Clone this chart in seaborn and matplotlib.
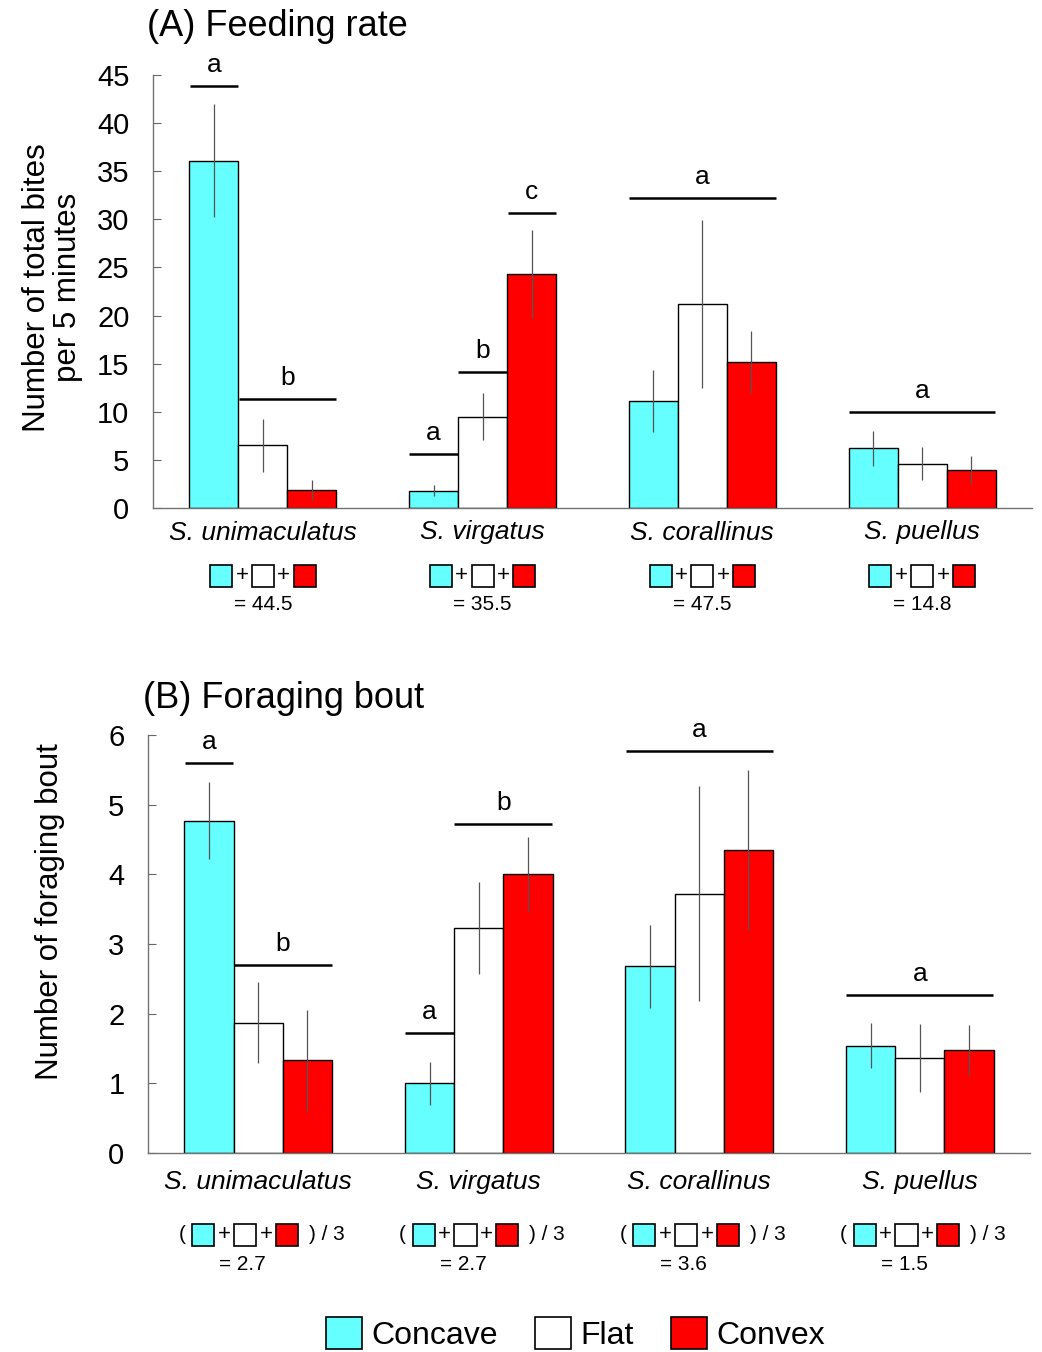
import numpy as np
import pandas as pd
import matplotlib
matplotlib.use("Agg")
import matplotlib.pyplot as plt
import seaborn as sns
from matplotlib.patches import Rectangle, Patch

species = ["S. unimaculatus", "S. virgatus", "S. corallinus", "S. puellus"]
shapes = ["Concave", "Flat", "Convex"]
colors = ["#66FFFF", "#FFFFFF", "#FF0000"]

# (A) number of total bites per 5 minutes: mean and SE per shape
bites_concave = [36.1, 1.8, 11.1, 6.2]
bites_flat = [6.5, 9.5, 21.2, 4.6]
bites_convex = [1.9, 24.3, 15.2, 4.0]
bites_concave_se = [5.85, 0.6, 3.2, 1.85]
bites_flat_se = [2.75, 2.4, 8.7, 1.7]
bites_convex_se = [1.05, 4.55, 3.2, 1.45]
bites_total = [44.5, 35.5, 47.5, 14.8]

# (B) number of foraging bouts: mean and SE per shape
bouts_concave = [4.77, 1.00, 2.68, 1.54]
bouts_flat = [1.87, 3.23, 3.72, 1.36]
bouts_convex = [1.33, 4.00, 4.35, 1.48]
bouts_concave_se = [0.555, 0.305, 0.595, 0.325]
bouts_flat_se = [0.58, 0.655, 1.545, 0.485]
bouts_convex_se = [0.725, 0.535, 1.15, 0.355]
bouts_mean = [2.7, 2.7, 3.6, 1.5]

# significance letters: (letter, species index, first shape, last shape, height)
letters_a = [("a", 0, 0, 0, 43.9), ("b", 0, 1, 2, 11.3),
             ("a", 1, 0, 0, 5.6), ("b", 1, 1, 1, 14.1), ("c", 1, 2, 2, 30.7),
             ("a", 2, 0, 2, 32.2), ("a", 3, 0, 2, 10.0)]
letters_b = [("a", 0, 0, 0, 5.60), ("b", 0, 1, 2, 2.70),
             ("a", 1, 0, 0, 1.72), ("b", 1, 1, 2, 4.72),
             ("a", 2, 0, 2, 5.77), ("a", 3, 0, 2, 2.27)]

W, H = 1042, 1352
BAR_W = 0.67


def long_frame(means, ses):
    rows = []
    for shape, m, s in zip(shapes, means, ses):
        for sp, v, e in zip(species, m, s):
            rows.append({"species": sp, "shape": shape, "value": v, "se": e})
    return pd.DataFrame(rows)


def draw_panel(ax, df, ymax, ystep, letters, ylabel):
    sns.barplot(data=df, x="species", y="value", hue="shape", hue_order=shapes,
                order=species, palette=colors, saturation=1, width=BAR_W,
                edgecolor="black", linewidth=1, errorbar=None, legend=False, ax=ax)
    centers = {}
    for k, cont in enumerate(ax.containers):
        sub = df[df["shape"] == shapes[k]].set_index("species").loc[species]
        for j, bar in enumerate(cont):
            x = bar.get_x() + bar.get_width() / 2
            centers[(j, k)] = x
            m, s = sub["value"].iloc[j], sub["se"].iloc[j]
            ax.vlines(x, m - s, m + s, color="#555555", lw=0.9, zorder=5)
    ext = 0.11
    for let, j, k0, k1, y in letters:
        x0 = centers[(j, k0)] - ext
        x1 = centers[(j, k1)] + ext
        ax.plot([x0, x1], [y, y], color="black", lw=1.8, solid_capstyle="butt")
        ax.annotate(let, ((x0 + x1) / 2, y), xytext=(0, 10), textcoords="offset points",
                    ha="center", va="baseline", fontsize=19)
    ax.set_xlim(-0.5, 3.5)
    ax.set_ylim(0, ymax)
    ax.set_yticks(np.arange(0, ymax + 0.01, ystep))
    ax.set_xlabel("")
    ax.set_ylabel(ylabel, fontsize=22.5, linespacing=1.05)
    ax.tick_params(axis="y", direction="in", length=6, width=0.8, color="0.4",
                   labelcolor="black", labelsize=21, pad=17)
    ax.tick_params(axis="x", length=0, labelsize=19, labelcolor="black")
    for lab in ax.get_xticklabels():
        lab.set_style("italic")
    sns.despine(ax=ax)
    for sp in ["left", "bottom"]:
        ax.spines[sp].set_color("0.45")
        ax.spines[sp].set_linewidth(1)


def square(ax, x, y, w, h, color):
    ax.add_patch(Rectangle((x - w / 2, y - h / 2), w, h, transform=ax.get_xaxis_transform(),
                           facecolor=color, edgecolor="black", lw=1.2, clip_on=False))


sns.set_style("ticks")
plt.rcParams["font.family"] = ["Liberation Sans", "DejaVu Sans"]
plt.rcParams["text.color"] = "black"
plt.rcParams["axes.labelcolor"] = "black"

fig = plt.figure(figsize=(W / 100, H / 100), dpi=100)
ax_a = fig.add_axes([153 / W, 1 - 508 / H, 879 / W, 433 / H])
ax_b = fig.add_axes([148 / W, 1 - 1153 / H, 882 / W, 418 / H])

df_a = long_frame([bites_concave, bites_flat, bites_convex],
                  [bites_concave_se, bites_flat_se, bites_convex_se])
df_b = long_frame([bouts_concave, bouts_flat, bouts_convex],
                  [bouts_concave_se, bouts_flat_se, bouts_convex_se])

draw_panel(ax_a, df_a, 45, 5, letters_a, "Number of total bites\nper 5 minutes")
draw_panel(ax_b, df_b, 6, 1, letters_b, "Number of foraging bout")
ax_a.tick_params(axis="x", pad=9)
ax_b.tick_params(axis="x", pad=12)
ax_a.yaxis.set_label_coords(-0.08, 0.51)
ax_b.yaxis.set_label_coords(-0.094, 0.577)

fig.text(147 / W, 1 - 26 / H, "(A) Feeding rate", fontsize=26, va="center", ha="left")
fig.text(143 / W, 1 - 698 / H, "(B) Foraging bout", fontsize=26, va="center", ha="left")

# formula under each species, panel A: sum of the three shapes
sq_w = 22 / 220
for j, tot in enumerate(bites_total):
    mid = j
    ya = -0.157
    for k in range(3):
        square(ax_a, mid + (k - 1) * 0.19, ya, sq_w, 22 / 433, colors[k])
    for k in range(2):
        ax_a.text(mid + (k - 0.5) * 0.19, ya, "+", transform=ax_a.get_xaxis_transform(),
                  ha="center", va="center", fontsize=16)
    ax_a.text(mid, -0.224, f"= {tot}", transform=ax_a.get_xaxis_transform(),
              ha="center", va="center", fontsize=15)

# formula under each species, panel B: mean of the three shapes
for j, mval in enumerate(bouts_mean):
    mid = j - 0.06
    yb = -0.196
    for k in range(3):
        square(ax_b, mid + (k - 1) * 0.19, yb, sq_w, 22 / 418, colors[k])
    for k in range(2):
        ax_b.text(mid + (k - 0.5) * 0.19, yb, "+", transform=ax_b.get_xaxis_transform(),
                  ha="center", va="center", fontsize=16)
    ax_b.text(mid - 0.285, yb, "(", transform=ax_b.get_xaxis_transform(),
              ha="center", va="center", fontsize=15)
    ax_b.text(mid + 0.29, yb, ") / 3", transform=ax_b.get_xaxis_transform(),
              ha="left", va="center", fontsize=15)
    ax_b.text(mid - 0.01, -0.266, f"= {mval}", transform=ax_b.get_xaxis_transform(),
              ha="center", va="center", fontsize=15)

handles = [Patch(facecolor=c, edgecolor="black", lw=1.2, label=s) for c, s in zip(colors, shapes)]
fig.legend(handles=handles, loc="center", bbox_to_anchor=(0.5523, 1 - 1334 / H), ncol=3,
           frameon=False, fontsize=23, handlelength=1.13, handleheight=1.13,
           handletextpad=0.3, columnspacing=1.15, borderpad=0)

fig.savefig("out.png", dpi=100)
